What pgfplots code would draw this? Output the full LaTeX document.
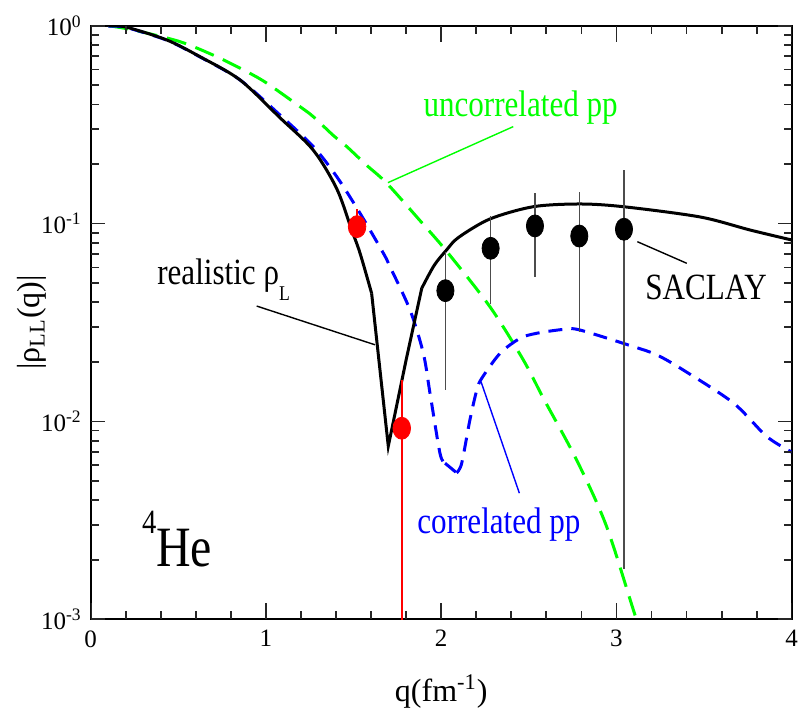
\documentclass[border=0pt]{standalone}
\usepackage{fontspec}
\setmainfont{Liberation Serif}
\newfontfamily\annfont{Liberation Serif}[FakeStretch=0.84]
\usepackage{pgfplots}
\usepackage{pgfplotstable}
\pgfplotsset{compat=1.18}

\pgfplotstableread{
x y
0.10 1.000
0.20 0.985
0.434 0.847
0.624 0.697
0.852 0.532
1.081 0.342
1.27 0.235
1.404 0.150
1.489 0.093
1.537 0.0708
1.603 0.0444
}\realisticA

\pgfplotstableread{
x y
1.603 0.0444
1.698 0.0075
1.80 0.0205
1.889 0.0471
}\realisticB

\pgfplotstableread{
x y
1.889 0.0471
1.96 0.0615
2.031 0.0736
2.098 0.0850
2.278 0.1055
2.526 0.1217
2.792 0.1256
3.039 0.1217
3.477 0.108
3.762 0.0928
4.0 0.0826
}\realisticC

\pgfplotstableread{
x y
0.10 0.995
0.20 0.980
0.434 0.845
0.624 0.695
0.852 0.532
1.081 0.353
1.27 0.245
1.404 0.1726
1.537 0.1127
1.67 0.0708
1.708 0.0605
1.822 0.0366
1.898 0.0221
1.936 0.0139
1.993 0.0069
2.022 0.00615
}\correlatedA

\pgfplotstableread{
x y
2.022 0.00615
2.088 0.0055
}\correlatedB

\pgfplotstableread{
x y
2.088 0.0055
2.117 0.00615
2.164 0.0102
2.203 0.0144
2.231 0.0165
2.336 0.0221
2.45 0.0263
2.545 0.0279
2.70 0.0292
2.79 0.0290
3.096 0.0239
3.23 0.0217
3.381 0.0182
3.667 0.0124
3.857 0.0084
4.0 0.0070
}\correlatedC

\pgfplotstableread{
x y
0.10 1.000
0.243 0.951
0.51 0.830
0.719 0.697
0.89 0.586
1.004 0.513
1.194 0.390
1.27 0.347
1.384 0.279
1.461 0.245
1.575 0.197
1.689 0.160
1.879 0.1035
2.031 0.0724
2.278 0.0380
2.468 0.0205
2.583 0.0131
2.773 0.00638
2.944 0.00294
3.115 0.000993
3.2 0.00063
}\uncorrelated

\pgfplotstableread{
x y ep em
2.024 0.0458 0.0263 0.0314
2.282 0.0750 0.0340 0.0358
2.535 0.0973 0.0447 0.0433
2.788 0.0865 0.0585 0.0581
3.043 0.0936 0.0930 0.0918
}\saclay

\pgfplotstableread{
x y ep em
1.520 0.0965 0.0225 0.0106
1.775 0.00924 0.0070 0.00914
}\redpts

\begin{document}
\begin{tikzpicture}
\begin{axis}[
  scale only axis, width=350.5pt, height=296.8pt,
  xmin=0, xmax=4, ymode=log, ymin=1e-3, ymax=1,
  xtick={0,1,2,3,4}, xticklabels={0,1,2,3,4},
  ytick={0.001,0.01,0.1,1},
  yticklabels={10\textsuperscript{-3},10\textsuperscript{-2},10\textsuperscript{-1},10\textsuperscript{0}},
  major tick length=0pt, minor tick length=0pt,
  axis line style={line width=0.9pt},
  tick label style={font=\fontsize{12.5}{13}\selectfont},
  xticklabel style={yshift=-2pt},
  yticklabel style={xshift=-1pt},
  label style={font=\fontsize{16}{18}\selectfont},
  xlabel={q(fm\textsuperscript{-1})},
  ylabel={|ρ\textsubscript{LL}(q)|},
  xlabel style={at={(axis description cs:0.5,-0.1388)}, anchor=base},
  ylabel style={at={(axis description cs:-0.0842,0.5)}, anchor=center},
]
\addplot[green, line width=1.5pt, dash pattern=on 10pt off 5pt, smooth, tension=0.5] table {\uncorrelated};
\addplot[blue, line width=1.5pt, dash pattern=on 7pt off 4.5pt, smooth, tension=0.5] table {\correlatedA};
\addplot[blue, line width=1.5pt, dash pattern=on 7pt off 4.5pt] table {\correlatedB};
\addplot[blue, line width=1.5pt, dash pattern=on 7pt off 4.5pt, smooth, tension=0.5] table {\correlatedC};
\addplot[black, line width=1.5pt, smooth, tension=0.5] table {\realisticA};
\addplot[black, line width=1.5pt, line join=miter] table {\realisticB};
\addplot[black, line width=1.5pt, smooth, tension=0.5] table {\realisticC};

\addplot[black!75, only marks, mark=*, mark size=5.5pt, mark options={xscale=0.78, black, fill=black},
  error bars/.cd, y dir=both, y explicit, error mark=none,
  error bar style={line width=0.8pt, black!70}]
  table[x=x, y=y, y error plus=ep, y error minus=em] {\saclay};
\addplot[red, only marks, mark=*, mark size=5.5pt, mark options={xscale=0.8, red, fill=red},
  error bars/.cd, y dir=both, y explicit, error mark=none,
  error bar style={line width=0.8pt, red}]
  table[x=x, y=y, y error plus=ep, y error minus=em] {\redpts};

% tick marks (inside, on all four sides)
\pgfplotsinvokeforeach{0,1,2,3,4}{
  \draw[black!85, line width=0.9pt] (axis cs:#1,0.001) -- ++(0pt,8pt);
  \draw[black!85, line width=0.9pt] (axis cs:#1,1) -- ++(0pt,-8pt);
}
\pgfplotsinvokeforeach{0.2,0.4,0.6,0.8,1.2,1.4,1.6,1.8,2.2,2.4,2.6,2.8,3.2,3.4,3.6,3.8}{
  \draw[black!85, line width=0.9pt] (axis cs:#1,0.001) -- ++(0pt,4pt);
  \draw[black!85, line width=0.9pt] (axis cs:#1,1) -- ++(0pt,-4pt);
}
\pgfplotsinvokeforeach{0.001,0.01,0.1,1}{
  \draw[black!85, line width=0.9pt] (axis cs:0,#1) -- ++(7pt,0pt);
  \draw[black!85, line width=0.9pt] (axis cs:4,#1) -- ++(-7pt,0pt);
}
\pgfplotsinvokeforeach{0.002,0.003,0.004,0.005,0.006,0.007,0.008,0.009,0.02,0.03,0.04,0.05,0.06,0.07,0.08,0.09,0.2,0.3,0.4,0.5,0.6,0.7,0.8,0.9}{
  \draw[black!85, line width=0.9pt] (axis cs:0,#1) -- ++(4pt,0pt);
  \draw[black!85, line width=0.9pt] (axis cs:4,#1) -- ++(-4pt,0pt);
}

% leader lines
\draw[green, line width=0.7pt] (axis cs:2.411,0.309) -- (axis cs:1.696,0.161);
\draw[black, line width=0.7pt] (axis cs:0.947,0.0383) -- (axis cs:1.622,0.0244);
\draw[black, line width=0.7pt] (axis cs:3.119,0.081) -- (axis cs:3.401,0.063);
\draw[blue, line width=0.7pt] (axis cs:2.227,0.0159) -- (axis cs:2.446,0.00434);

% labels
\node[anchor=base west, inner sep=0pt, text=green, font=\annfont\fontsize{18.5}{20}\selectfont]
  at (axis cs:1.897,0.347) {uncorrelated pp};
\node[anchor=base west, inner sep=0pt, font=\annfont\fontsize{18.5}{20}\selectfont]
  at (axis cs:0.378,0.049) {realistic ρ\raisebox{-8pt}{\fontsize{10.5}{11}\selectfont L}};
\node[anchor=base west, inner sep=0pt, font=\annfont\fontsize{18.5}{20}\selectfont]
  at (axis cs:3.163,0.0411) {SACLAY};
\node[anchor=base west, inner sep=0pt, text=blue, font=\annfont\fontsize{18.5}{20}\selectfont]
  at (axis cs:1.862,0.00273) {correlated pp};
\node[anchor=base west, inner sep=0pt, font=\annfont\fontsize{28.5}{30}\selectfont]
  at (axis cs:0.291,0.001846) {\raisebox{16.8pt}{\fontsize{17}{17}\selectfont 4}He};
\end{axis}
\pgfresetboundingbox
\path ([xshift=-45.35pt,yshift=-47.35pt]current axis.south west) rectangle ([xshift=3.15pt,yshift=12.85pt]current axis.north east);
\end{tikzpicture}
\end{document}
